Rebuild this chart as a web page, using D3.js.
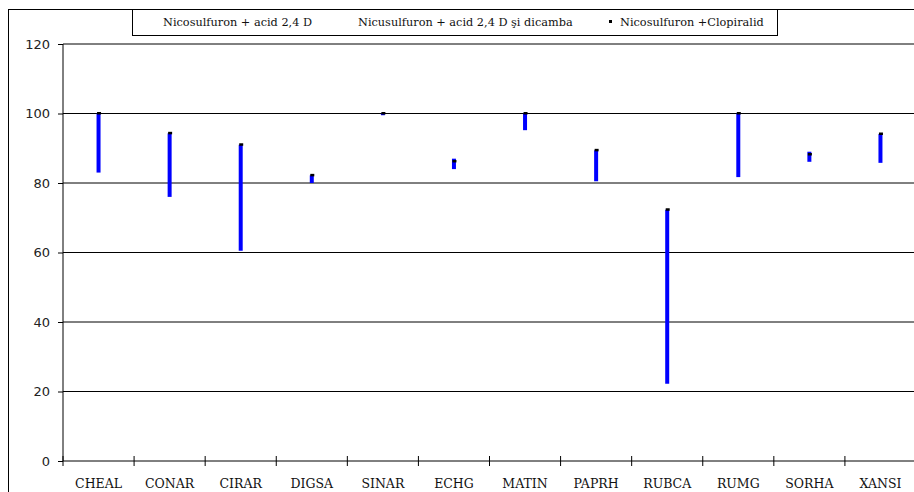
<!DOCTYPE html>
<html>
<head>
<meta charset="utf-8">
<script src="https://cdn.jsdelivr.net/npm/d3@7"></script>
<style>
  html, body { margin: 0; padding: 0; background: #fff; }
  svg { display: block; }
</style>
</head>
<body>
<svg id="chart" width="914" height="492"></svg>
<script>
// Weed species (EPPO codes)
const categories = ["CHEAL", "CONAR", "CIRAR", "DIGSA", "SINAR", "ECHG", "MATIN", "PAPRH", "RUBCA", "RUMG", "SORHA", "XANSI"];

// Efficacy (%) per herbicide combination
const seriesNames = ["Nicosulfuron  + acid 2,4 D", "Nicusulfuron + acid 2,4 D şi dicamba", "Nicosulfuron +Clopiralid"];
const acid24D       = [83, 76, 60.5, 80, 99.5, 84, 95.2, 80.5, 22.2, 81.7, 86.1, 85.8];
const acid24DDicamba = [95, 88, 80, 81, 100, 87, 98, 86, 50, 92, 89, 90];
const clopiralid    = [100, 94.3, 91, 82.2, 100, 86.2, 100, 89.4, 72.3, 100, 88.2, 94.1];

const yTicks = [0, 20, 40, 60, 80, 100, 120];

const svg = d3.select("#chart");

// Outer chart frame
svg.append("rect")
  .attr("x", 8.5).attr("y", 9.5)
  .attr("width", 1000).attr("height", 1000)
  .attr("fill", "none").attr("stroke", "#000").attr("stroke-width", 1);

const x = d3.scaleBand().domain(categories).range([63, 916]).padding(0);
const y = d3.scaleLinear().domain([0, 120]).range([461, 44]);

// Horizontal gridlines
svg.append("g")
  .selectAll("line")
  .data(yTicks.filter(t => t > 0))
  .join("line")
  .attr("x1", 63).attr("x2", 916)
  .attr("y1", d => y(d)).attr("y2", d => y(d))
  .attr("stroke", "#000").attr("stroke-width", 1);

// Y axis
const yAxis = svg.append("g")
  .attr("transform", "translate(63,0)")
  .call(d3.axisLeft(y).tickValues(yTicks).tickSize(5).tickPadding(8).tickFormat(d3.format("d")));
yAxis.select(".domain").attr("stroke", "#000").attr("d", `M0,${y(120)}V${y(0)}`);
yAxis.selectAll(".tick line").attr("stroke", "#000");
yAxis.selectAll("text")
  .attr("font-family", "DejaVu Sans, Verdana, sans-serif")
  .attr("font-size", 13)
  .attr("fill", "#222");

// X axis with tick marks at category boundaries
const xAxis = svg.append("g")
  .attr("transform", `translate(0,${y(0)})`);
xAxis.append("line")
  .attr("x1", 63).attr("x2", 916)
  .attr("stroke", "#000").attr("stroke-width", 1);
const boundaries = categories.map(c => x(c)).concat([x.range()[1]]);
xAxis.selectAll(".bnd")
  .data(boundaries)
  .join("line")
  .attr("class", "bnd")
  .attr("x1", d => d).attr("x2", d => d)
  .attr("y1", -5).attr("y2", 5)
  .attr("stroke", "#000");
xAxis.selectAll(".lbl")
  .data(categories)
  .join("text")
  .attr("class", "lbl")
  .attr("x", d => x(d) + x.bandwidth() / 2)
  .attr("y", 27)
  .attr("text-anchor", "middle")
  .attr("font-family", "DejaVu Serif, Cambria, serif")
  .attr("font-size", 12.5)
  .attr("fill", "#111")
  .text(d => d);

// High-low lines spanning the three treatments
const rows = categories.map((c, i) => {
  const vals = [acid24D[i], acid24DDicamba[i], clopiralid[i]];
  return { cat: c, lo: d3.min(vals), hi: d3.max(vals), mark: clopiralid[i] };
});
svg.append("g")
  .selectAll("line")
  .data(rows)
  .join("line")
  .attr("x1", d => x(d.cat) + x.bandwidth() / 2)
  .attr("x2", d => x(d.cat) + x.bandwidth() / 2)
  .attr("y1", d => y(d.lo))
  .attr("y2", d => y(d.hi))
  .attr("stroke", "#0000ff").attr("stroke-width", 4);

// Dash markers for Nicosulfuron + Clopiralid
svg.append("g")
  .selectAll("rect")
  .data(rows)
  .join("rect")
  .attr("x", d => x(d.cat) + x.bandwidth() / 2 - 1.5)
  .attr("y", d => y(d.mark) - 1.5)
  .attr("width", 4).attr("height", 2.5)
  .attr("fill", "#000");

// Legend
const legend = svg.append("g");
legend.append("rect")
  .attr("x", 132.5).attr("y", 9.5)
  .attr("width", 645).attr("height", 26)
  .attr("fill", "#fff").attr("stroke", "#000");
const legendX = [163, 358, 620];
legend.selectAll("text")
  .data(seriesNames)
  .join("text")
  .attr("x", (d, i) => legendX[i])
  .attr("y", 26)
  .attr("font-family", "DejaVu Serif, Cambria, serif")
  .attr("font-size", 11.3)
  .attr("fill", "#111")
  .text(d => d);
legend.append("rect")
  .attr("x", 609).attr("y", 20)
  .attr("width", 3).attr("height", 3)
  .attr("fill", "#000");
</script>
</body>
</html>
